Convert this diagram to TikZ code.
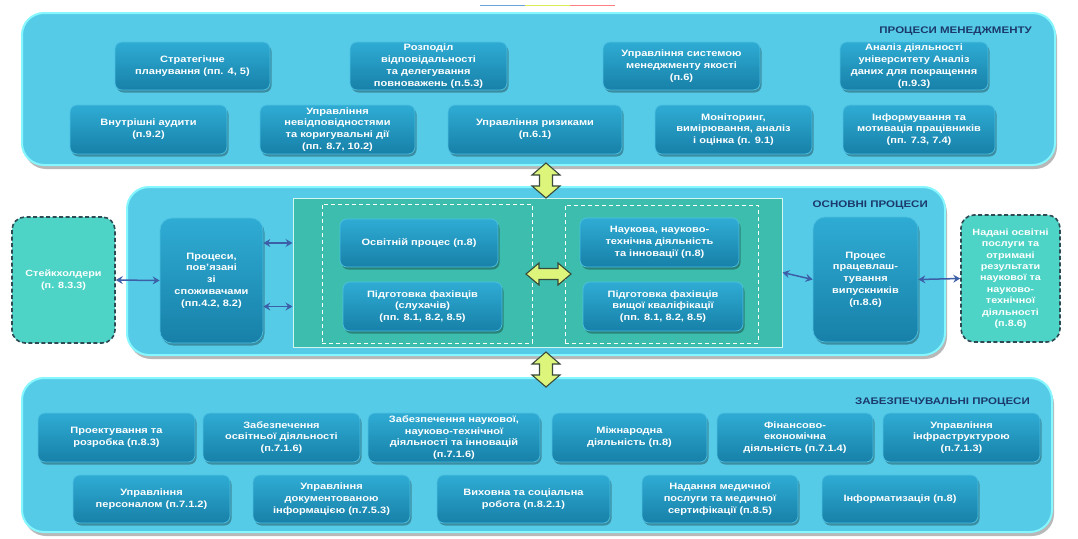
\documentclass[tikz,border=0pt]{standalone}
\usepackage{fontspec}
\setmainfont{Liberation Sans}[FakeStretch=1.2]
\usetikzlibrary{shadows,arrows.meta}
\definecolor{panelfill}{HTML}{55CBE7}
\definecolor{paneledge}{HTML}{86F6FF}
\definecolor{boxtop}{HTML}{2FACD4}
\definecolor{boxbot}{HTML}{1780A8}
\definecolor{boxedge}{HTML}{4CC0E2}
\definecolor{teal}{HTML}{3CBDAE}
\definecolor{tealedge}{HTML}{D2F6F0}
\definecolor{extfill}{HTML}{4DD4C6}
\definecolor{extedge}{HTML}{2E4A55}
\definecolor{titlecol}{HTML}{1B3A6B}
\definecolor{linkcol}{HTML}{3D5FA8}
\definecolor{yarrowfill}{HTML}{DDF57A}
\definecolor{yarrowedge}{HTML}{3A4A3A}
\tikzset{
  panel/.style={rounded corners=22pt, fill=panelfill, draw=paneledge, line width=2pt,
    drop shadow={shadow xshift=2pt, shadow yshift=-4pt, fill=black, opacity=0.28}},
  pbox/.style={rounded corners=7pt, top color=boxtop, bottom color=boxbot, draw=boxedge,
    line width=0.7pt, text=white, align=center, inner sep=1pt,
    font=\bfseries\fontsize{9.2}{11.8}\selectfont,
    drop shadow={shadow xshift=1.5pt, shadow yshift=-2.5pt, fill=black, opacity=0.3}},
  extbox/.style={rounded corners=13pt, fill=extfill, draw=extedge, line width=1.6pt,
    dash pattern=on 4pt off 2.5pt, text=white, align=center, inner sep=1pt,
    font=\bfseries\fontsize{9}{11.4}\selectfont},
  tealrect/.style={fill=teal, draw=tealedge, line width=1pt},
  dashrect/.style={draw=white!92, line width=0.8pt, dash pattern=on 4pt off 3pt},
  ptitle/.style={text=titlecol, font=\bfseries\fontsize{9.6}{10}\selectfont, inner sep=0pt},
  link/.style={{Stealth[length=7pt,width=8pt,inset=2.5pt]}-{Stealth[length=7pt,width=8pt,inset=2.5pt]}, draw=linkcol, line width=1.5pt},
  yarrow/.style={fill=yarrowfill, draw=yarrowedge, line width=1.1pt, line join=miter}
}
\begin{document}
\begin{tikzpicture}[x=1pt,y=-1pt]
\useasboundingbox (0,0) rectangle (1078,538);
\fill[white] (0,0) rectangle (1078,538);
% small coloured line at the top
\coordinate (cl) at (480,5);
\draw[line width=1pt, draw=cyan!60!blue!60] (cl) -- ++(45,0);
\draw[line width=1pt, draw=yellow!80!green!70] ([xshift=45pt]cl) -- ++(45,0);
\draw[line width=1pt, draw=red!50] ([xshift=90pt]cl) -- ++(45,0);

% panels
\node[panel, minimum width=1033, minimum height=152] (pm) at (538.5,89) {};
\node[panel, minimum width=818, minimum height=168] (po) at (536,271) {};
\node[panel, minimum width=1030, minimum height=154] (ps) at (537,455) {};

\node[ptitle, anchor=east] (tm) at (1032,31) {ПРОЦЕСИ МЕНЕДЖМЕНТУ};
\node[ptitle, anchor=east] (to) at (928,205) {ОСНОВНІ ПРОЦЕСИ};
\node[ptitle, anchor=east] (ts) at (1030,402) {ЗАБЕЗПЕЧУВАЛЬНІ ПРОЦЕСИ};

% management processes
\node[pbox, minimum width=155, minimum height=48] (m1) at (192.5,66) {Стратегічне\\планування (пп. 4, 5)};
\node[pbox, minimum width=157, minimum height=48] (m2) at (428.5,66) {Розподіл\\відповідальності\\та делегування\\повноважень (п.5.3)};
\node[pbox, minimum width=157, minimum height=48] (m3) at (681.5,66) {Управління системою\\менеджменту якості\\(п.6)};
\node[pbox, minimum width=148, minimum height=48] (m4) at (914,66) {Аналіз діяльності\\університету Аналіз\\даних для покращення\\(п.9.3)};
\node[pbox, minimum width=157, minimum height=49] (m5) at (148.5,129.5) {Внутрішні аудити\\(п.9.2)};
\node[pbox, minimum width=155, minimum height=49] (m6) at (337.5,129.5) {Управління\\невідповідностями\\та коригувальні дії\\(пп. 8.7, 10.2)};
\node[pbox, minimum width=174, minimum height=49] (m7) at (535,129.5) {Управління ризиками\\(п.6.1)};
\node[pbox, minimum width=157, minimum height=49] (m8) at (733.5,129.5) {Моніторинг,\\вимірювання, аналіз\\і оцінка (п. 9.1)};
\node[pbox, minimum width=152, minimum height=49] (m9) at (919,129.5) {Інформування та\\мотивація працівників\\(пп. 7.3, 7.4)};

% main processes
\node[tealrect, minimum width=489, minimum height=149] (green) at (537.5,272.5) {};
\node[dashrect, minimum width=210, minimum height=139] (dl) at (427,273.5) {};
\node[dashrect, minimum width=193, minimum height=138] (dr) at (661.5,274) {};
\node[pbox, minimum width=158, minimum height=48] (o1) at (419,243) {Освітній процес (п.8)};
\node[pbox, minimum width=159, minimum height=49] (o2) at (422.5,306.5) {Підготовка фахівців\\(слухачів)\\(пп. 8.1, 8.2, 8.5)};
\node[pbox, minimum width=159, minimum height=49] (o3) at (659.5,242.5) {Наукова, науково-\\технічна діяльність\\та інновації (п.8)};
\node[pbox, minimum width=160, minimum height=49] (o4) at (663,306.5) {Підготовка фахівців\\вищої кваліфікації\\(пп. 8.1, 8.2, 8.5)};
\node[pbox, rounded corners=12pt, minimum width=103, minimum height=125] (cust) at (211.5,280.5) {Процеси,\\пов’язані\\зі\\споживачами\\(пп.4.2, 8.2)};
\node[pbox, rounded corners=12pt, minimum width=105, minimum height=125] (empl) at (865.5,279.5) {Процес\\працевлаш-\\тування\\випускників\\(п.8.6)};
\node[extbox, minimum width=103, minimum height=126] (stake) at (63.5,280) {Стейкхолдери\\(п. 8.3.3)};
\node[extbox, minimum width=99, minimum height=127] (res) at (1010.5,278.5) {Надані освітні\\послуги та\\отримані\\результати\\наукової та\\науково-\\технічної\\діяльності\\(п.8.6)};

% blue links
\draw[link] (stake.east) -- (cust.west);
\draw[link] (cust.east |- o1) -- (green.west |- o1);
\draw[link] (cust.east |- o2) -- (green.west |- o2);
\draw[link] (green.east) -- (empl.west);
\draw[link] (empl.east) -- (res.west);

% yellow double arrows
\coordinate (va1) at (546,180.5);
\coordinate (va2) at (546,369.5);
\coordinate (ha) at (548.5,274);
\draw[yarrow, shift={(va1)}] (0,-17.5) -- (14,-5.5) -- (6.5,-5.5) -- (6.5,5.5) -- (14,5.5) -- (0,17.5) -- (-14,5.5) -- (-6.5,5.5) -- (-6.5,-5.5) -- (-14,-5.5) -- cycle;
\draw[yarrow, shift={(va2)}] (0,-17.5) -- (14,-5.5) -- (6.5,-5.5) -- (6.5,5.5) -- (14,5.5) -- (0,17.5) -- (-14,5.5) -- (-6.5,5.5) -- (-6.5,-5.5) -- (-14,-5.5) -- cycle;
\draw[yarrow, shift={(ha)}] (-22.5,0) -- (-9.5,-11) -- (-9.5,-5.5) -- (9.5,-5.5) -- (9.5,-11) -- (22.5,0) -- (9.5,11) -- (9.5,5.5) -- (-9.5,5.5) -- (-9.5,11) -- cycle;

% support processes
\node[pbox, minimum width=157, minimum height=49] (s1) at (116.5,437.5) {Проектування та\\розробка (п.8.3)};
\node[pbox, minimum width=157, minimum height=49] (s2) at (281.5,437.5) {Забезпечення\\освітньої діяльності\\(п.7.1.6)};
\node[pbox, minimum width=172, minimum height=49] (s3) at (454,437.5) {Забезпечення наукової,\\науково-технічної\\діяльності та інновацій\\(п.7.1.6)};
\node[pbox, minimum width=155, minimum height=49] (s4) at (629.5,437.5) {Міжнародна\\діяльність (п.8)};
\node[pbox, minimum width=156, minimum height=49] (s5) at (795,437.5) {Фінансово-\\економічна\\діяльність (п.7.1.4)};
\node[pbox, minimum width=157, minimum height=49] (s6) at (961.5,437.5) {Управління\\інфраструктурою\\(п.7.1.3)};
\node[pbox, minimum width=157, minimum height=48] (s7) at (151.5,499) {Управління\\персоналом (п.7.1.2)};
\node[pbox, minimum width=157, minimum height=48] (s8) at (331.5,499) {Управління\\документованою\\інформацією (п.7.5.3)};
\node[pbox, minimum width=173, minimum height=48] (s9) at (523.5,499) {Виховна та соціальна\\робота (п.8.2.1)};
\node[pbox, minimum width=156, minimum height=48] (s10) at (720,499) {Надання медичної\\послуги та медичної\\сертифікації (п.8.5)};
\node[pbox, minimum width=156, minimum height=48] (s11) at (900,499) {Інформатизація (п.8)};
\end{tikzpicture}
\end{document}
